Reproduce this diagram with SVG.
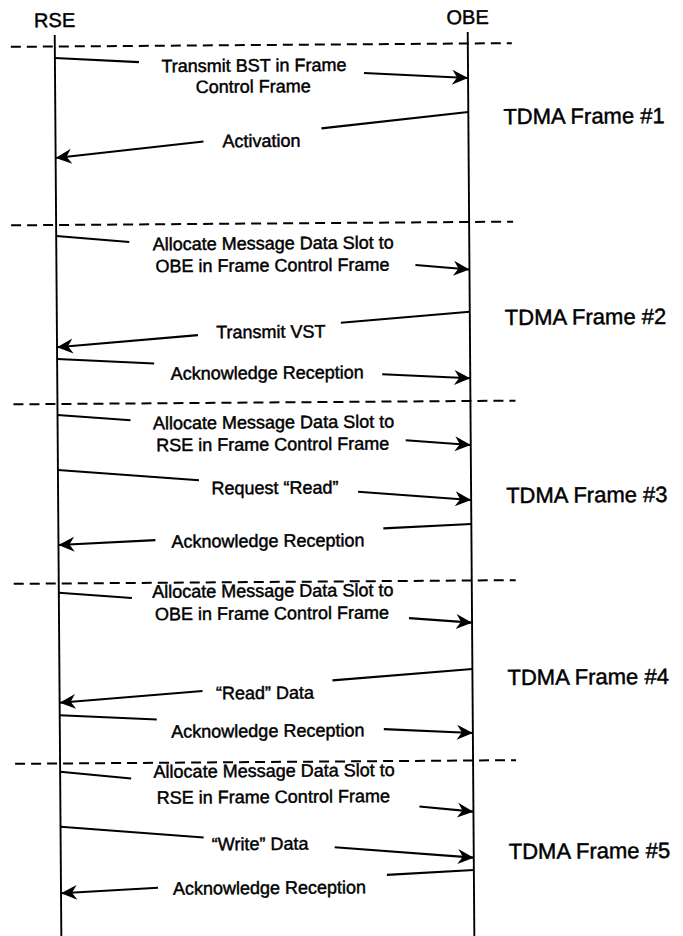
<svg xmlns="http://www.w3.org/2000/svg" width="683" height="936" viewBox="0 0 683 936">
  <style>
    .life { stroke: #000; stroke-width: 1.9; fill: none; }
    .sep { stroke: #000; stroke-width: 2; stroke-dasharray: 10 6; fill: none; }
    .msg line { stroke: #000; stroke-width: 2.1; fill: none; }
    .msg .head { marker-end: url(#arrow); }
    text { font-family: "Liberation Sans", Arial, Helvetica, sans-serif; fill: #000; stroke: #000; stroke-width: 0.45; }
    .hdr { font-size: 20px; text-anchor: middle; }
    .lbl { font-size: 18px; text-anchor: middle; }
    .frame { font-size: 22px; }
  </style>
  <defs>
    <marker id="arrow" viewBox="-17 -8.5 18 17" markerWidth="18" markerHeight="17" refX="0" refY="0" orient="auto" markerUnits="userSpaceOnUse">
      <path d="M0,0 L-16,-7.5 L-11,0 L-16,7.5 Z" fill="#000"/>
    </marker>
  </defs>
  <rect width="683" height="936" fill="#fff"/>

  <!-- the whole sheet sits at a slight tilt -->
  <g transform="rotate(-0.42 262 480)">

    <!-- participants -->
    <g id="rse">
      <text class="hdr" x="58" y="25.5">RSE</text>
      <line class="life" x1="58" y1="33.5" x2="58" y2="950"/>
    </g>
    <g id="obe">
      <text class="hdr" x="471" y="25.5">OBE</text>
      <line class="life" x1="471" y1="33.5" x2="471" y2="950"/>
    </g>

    <!-- frame boundaries -->
    <g id="frame-separators">
      <line class="sep" x1="14" y1="45" x2="515" y2="45"/>
      <line class="sep" x1="13" y1="223.5" x2="515" y2="223.5"/>
      <line class="sep" x1="14" y1="402.5" x2="516" y2="402.5"/>
      <line class="sep" x1="13" y1="582" x2="515" y2="582"/>
      <line class="sep" x1="13" y1="762" x2="514" y2="762"/>
    </g>

    <!-- frame titles -->
    <g id="tdma-frame-1"><text class="frame" x="506" y="126">TDMA Frame #1</text></g>
    <g id="tdma-frame-2"><text class="frame" x="506" y="326.8">TDMA Frame #2</text></g>
    <g id="tdma-frame-3"><text class="frame" x="506" y="504.8">TDMA Frame #3</text></g>
    <g id="tdma-frame-4"><text class="frame" x="506" y="686.8">TDMA Frame #4</text></g>
    <g id="tdma-frame-5"><text class="frame" x="506" y="860.8">TDMA Frame #5</text></g>

    <!-- messages: each line is broken around its label -->
    <g id="connectors">
      <g id="m1-transmit-bst" class="msg">
        <line x1="58" y1="56.5" x2="142" y2="61.2"/>
        <line class="head" x1="367" y1="73.7" x2="471" y2="79.5"/>
        <text class="lbl" x="257" y="71.5">Transmit BST in Frame</text>
        <text class="lbl" x="256" y="92.5">Control Frame</text>
      </g>
      <g id="m2-activation" class="msg">
        <line x1="471" y1="113.5" x2="324" y2="128.8"/>
        <line class="head" x1="206" y1="141.1" x2="58" y2="156.5"/>
        <text class="lbl" x="264" y="147">Activation</text>
      </g>

      <g id="m3-allocate-obe" class="msg">
        <line x1="58" y1="234.5" x2="131" y2="241"/>
        <line class="head" x1="417" y1="266.2" x2="471" y2="271"/>
        <text class="lbl" x="275" y="249.5">Allocate Message Data Slot to</text>
        <text class="lbl" x="274" y="271.5">OBE in Frame Control Frame</text>
      </g>
      <g id="m4-transmit-vst" class="msg">
        <line x1="471" y1="313.2" x2="342" y2="323.4"/>
        <line class="head" x1="199" y1="334.7" x2="58" y2="345.8"/>
        <text class="lbl" x="272" y="338">Transmit VST</text>
      </g>
      <g id="m5-ack" class="msg">
        <line x1="58" y1="357.5" x2="155" y2="362.7"/>
        <line class="head" x1="383" y1="375.1" x2="471" y2="379.8"/>
        <text class="lbl" x="268" y="379">Acknowledge Reception</text>
      </g>

      <g id="m6-allocate-rse" class="msg">
        <line x1="58" y1="413.5" x2="131" y2="419.3"/>
        <line class="head" x1="406" y1="441.3" x2="471" y2="446.5"/>
        <text class="lbl" x="274" y="428.5">Allocate Message Data Slot to</text>
        <text class="lbl" x="273" y="450.5">RSE in Frame Control Frame</text>
      </g>
      <g id="m7-request-read" class="msg">
        <line x1="58" y1="468.5" x2="199" y2="479.8"/>
        <line class="head" x1="358" y1="492.5" x2="471" y2="501.5"/>
        <text class="lbl" x="275" y="494">Request “Read”</text>
      </g>
      <g id="m8-ack" class="msg">
        <line x1="471" y1="525.5" x2="383" y2="529.3"/>
        <line class="head" x1="155" y1="539.3" x2="58" y2="543.5"/>
        <text class="lbl" x="267.5" y="547">Acknowledge Reception</text>
      </g>

      <g id="m9-allocate-obe" class="msg">
        <line x1="58" y1="591.2" x2="131" y2="597"/>
        <line class="head" x1="408" y1="619.2" x2="471" y2="624.2"/>
        <text class="lbl" x="272" y="597">Allocate Message Data Slot to</text>
        <text class="lbl" x="271" y="619.5">OBE in Frame Control Frame</text>
      </g>
      <g id="m10-read-data" class="msg">
        <line x1="471" y1="670.5" x2="331" y2="680.9"/>
        <line class="head" x1="201" y1="690.6" x2="58" y2="701.2"/>
        <text class="lbl" x="263.5" y="699">“Read” Data</text>
      </g>
      <g id="m11-ack" class="msg">
        <line x1="58" y1="713.8" x2="155" y2="718.7"/>
        <line class="head" x1="382" y1="730" x2="471" y2="734.5"/>
        <text class="lbl" x="266" y="737">Acknowledge Reception</text>
      </g>

      <g id="m12-allocate-rse" class="msg">
        <line x1="58" y1="770.2" x2="129" y2="777.6"/>
        <line class="head" x1="417" y1="807.6" x2="471" y2="813.2"/>
        <text class="lbl" x="272" y="777">Allocate Message Data Slot to</text>
        <text class="lbl" x="271" y="803">RSE in Frame Control Frame</text>
      </g>
      <g id="m13-write-data" class="msg">
        <line x1="58" y1="825.2" x2="201" y2="837"/>
        <line class="head" x1="332" y1="847.8" x2="471" y2="859.2"/>
        <text class="lbl" x="257.5" y="850">“Write” Data</text>
      </g>
      <g id="m14-ack" class="msg">
        <line x1="471" y1="871.5" x2="384" y2="875.8"/>
        <line class="head" x1="155" y1="887" x2="58" y2="891.8"/>
        <text class="lbl" x="266.5" y="894">Acknowledge Reception</text>
      </g>
    </g>
  </g>
</svg>
